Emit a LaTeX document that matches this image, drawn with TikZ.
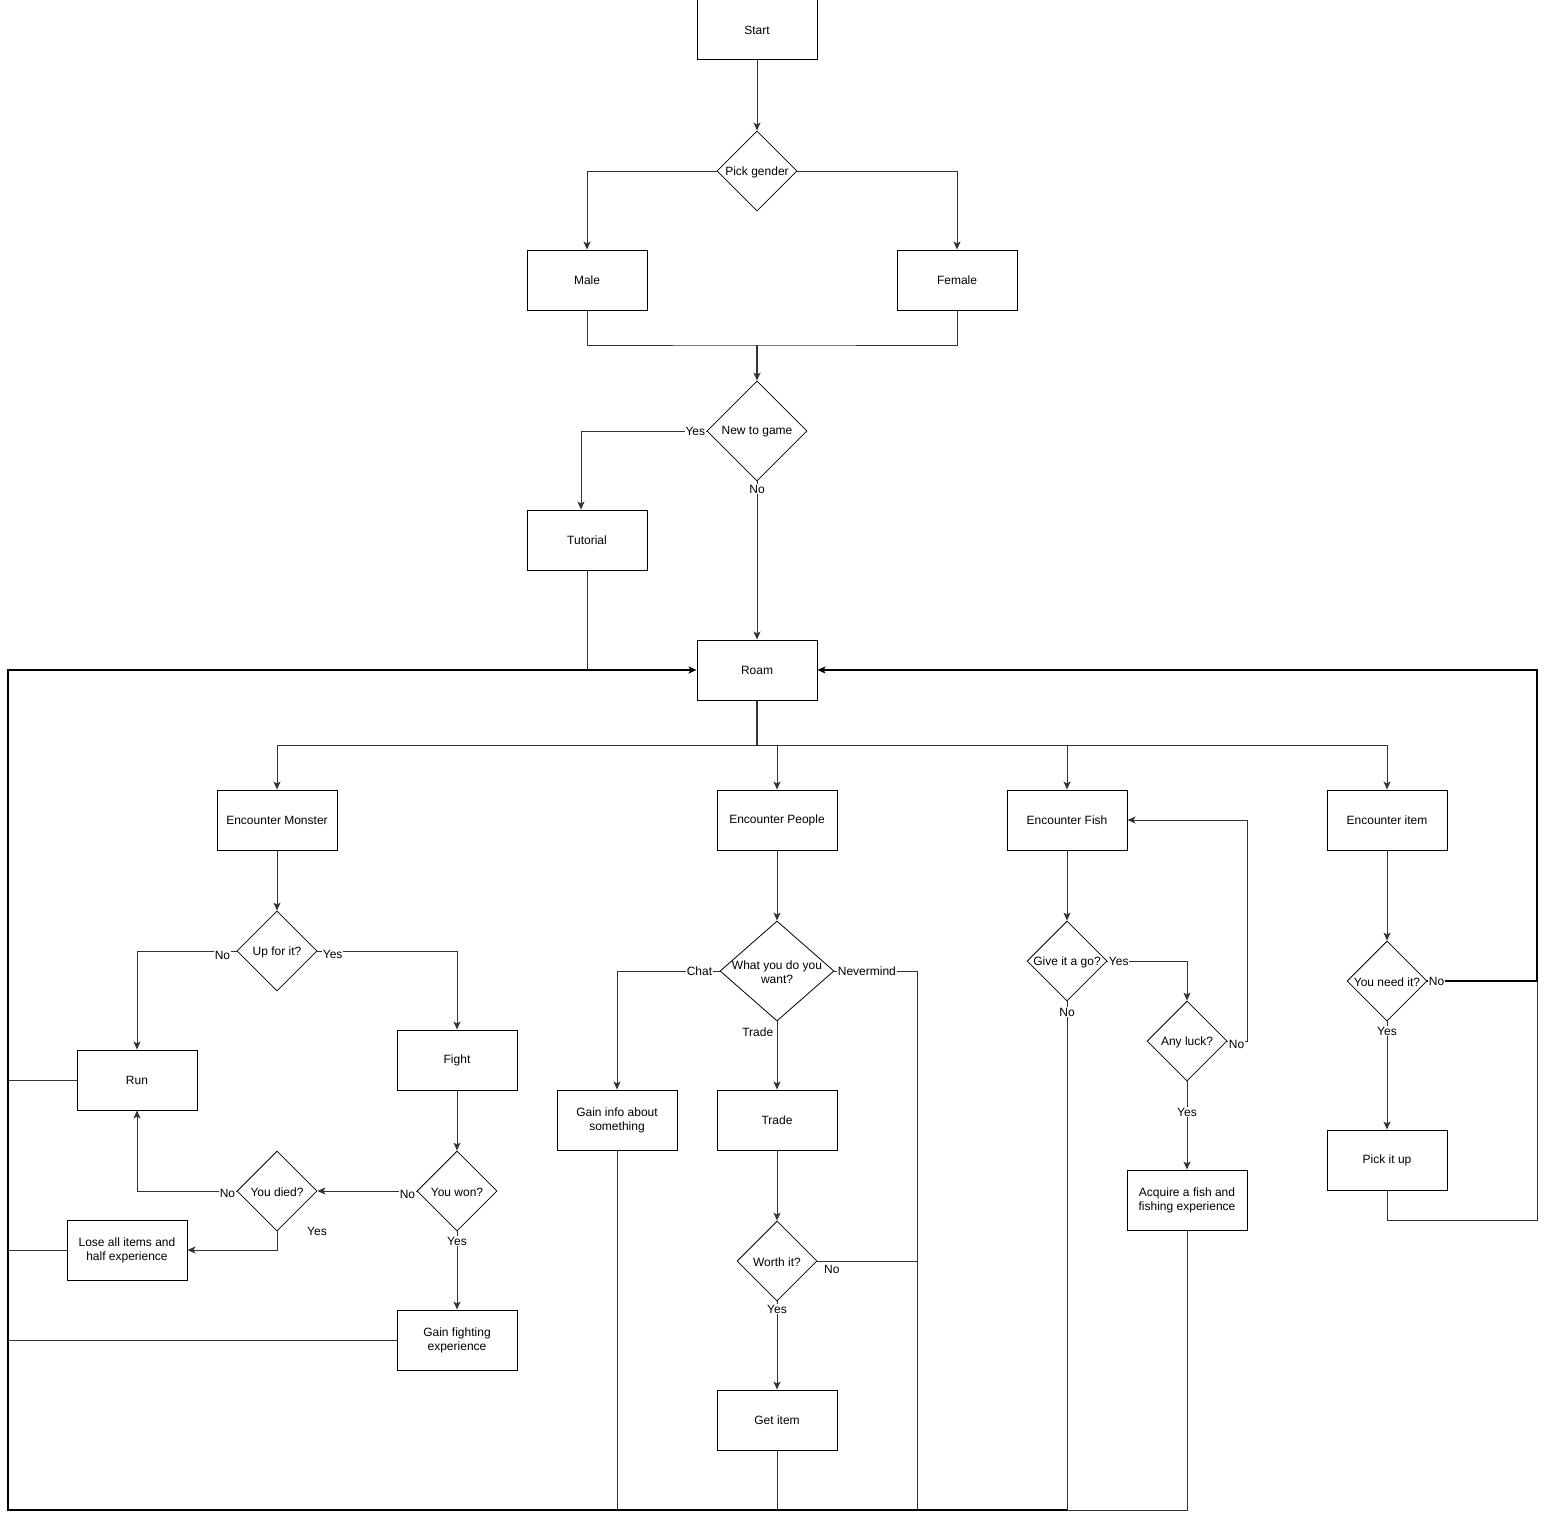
\documentclass[tikz,border=0pt]{standalone}
\usepackage{fontspec}
\setmainfont{Liberation Sans}
\usetikzlibrary{shapes.geometric,arrows.meta}

\tikzset{
  procbox/.style={draw, line width=1pt, minimum width=120, minimum height=60, align=center, inner sep=2pt},
  choice/.style={draw, diamond, line width=0.8pt, inner sep=0pt},
  flow/.style={draw=black!80, line width=1pt},
  arr/.style={flow, -{Stealth[length=8pt,width=7pt,inset=2pt]}},
  backloop/.style={draw=black, line width=2pt},
  backarr/.style={backloop, -{Stealth[length=8pt,width=7pt,inset=2pt]}},
  lbl/.style={fill=white, inner sep=1pt},
}

\begin{document}
\begin{tikzpicture}[x=1pt,y=-1pt,every node/.style={font=\fontsize{12}{14}\selectfont}]
        \useasboundingbox (0,0) rectangle (1546,1520);

        %the boxes
        \foreach \name/\loc/\txt in {start/{757,30}/Start, male/{587,280}/Male, female/{957,280}/Female,
          tutorial/{587,540}/Tutorial, roam/{757,670}/Roam,
          monster/{277,820}/Encounter Monster, people/{777,820}/Encounter People,
          fish/{1067,820}/Encounter Fish, item/{1387,820}/Encounter item,
          run/{137,1080}/Run, fight/{457,1060}/Fight, lose/{127,1250}/{Lose all items and\\half experience},
          gain/{457,1340}/{Gain fighting\\experience}, chat/{617,1120}/{Gain info about\\something},
          trade/{777,1120}/Trade, getitem/{777,1420}/Get item,
          acquire/{1187,1200}/{Acquire a fish and\\fishing experience}, pick/{1387,1160}/Pick it up}{
          \node[procbox] (\name) at (\loc) {\txt};
        }

        %the questions
        \foreach \name/\loc/\w/\h/\txt in {gender/{757,171}/80/80/Pick gender, newgame/{757,431}/100/100/New to game,
          upfor/{277,951}/80/80/Up for it?, won/{457,1191}/80/80/You won?, died/{277,1191}/80/80/You died?,
          want/{777,971}/114/100/{What you do you\\want?}, worth/{777,1261}/80/80/Worth it?,
          giveit/{1067,961}/80/80/Give it a go?, luck/{1187,1041}/80/80/Any luck?,
          need/{1387,981}/80/80/You need it?}{
          \node[choice, minimum width=\w, minimum height=\h,
            label={[name=\name-txt,align=center,yshift=-1]center:{\txt}}] (\name) at (\loc) {};
        }

        %corners of the way back
        \coordinate (sw) at (8,1510);
        \coordinate (nw) at (8,670);
        \coordinate (ne) at (1537,670);
        \coordinate (se) at (1537,1220);
        \coordinate (nm) at (917,1510);
        \coordinate (merge) at (757,345);
        \coordinate (split) at (757,745);
        \coordinate (fishback) at (1247,820);

        %start of the game
        \draw[arr] (start) -- (gender);
        \draw[arr] (gender.west) -| (male.north);
        \draw[arr] (gender.east) -| (female.north);
        \draw[flow] (male.south) |- (merge) -| (female.south);
        \draw[arr,line width=1.4pt] (merge) -- (newgame.north);
        \draw[arr] (newgame.west) -| node[lbl,pos=0,anchor=east]{Yes} ([xshift=-6]tutorial.north);
        \draw[arr] (newgame.south) -- node[lbl,pos=0,anchor=north,yshift=-2]{No} (roam.north);
        \draw[flow] (tutorial.south) -- (tutorial.south |- roam.west);

        %roam around
        \draw[flow,line width=1.6pt] (roam.south) -- (split);
        \foreach \enc in {monster,people,fish,item}{
          \draw[arr] (roam.south) -- (split) -| (\enc.north);
        }

        %monster
        \draw[arr] (monster) -- (upfor);
        \draw[arr] (upfor.west) -| node[lbl,pos=0,anchor=east,xshift=-5,yshift=-4]{No} (run.north);
        \draw[arr] (upfor.east) -| node[lbl,pos=0,anchor=west,xshift=4,yshift=-3]{Yes} (fight.north);
        \draw[arr] (fight) -- (won);
        \draw[arr] (won.west) -- node[lbl,pos=0,anchor=east,yshift=-3]{No} (died.east);
        \draw[arr] (died.west) -| node[lbl,pos=0,anchor=east,yshift=-2]{No} (run.south);
        \draw[arr] (died.south) |- node[pos=0,xshift=40]{Yes} (lose.east);
        \draw[arr] (won.south) -- node[lbl,pos=0,anchor=north,yshift=-4]{Yes} (gain.north);
        \foreach \leaf in {run,lose,gain}{
          \draw[flow] (\leaf.west) -- (\leaf.west -| sw);
        }

        %people
        \draw[arr] (people) -- (want);
        \draw[arr] (want.west) -| node[lbl,pos=0,anchor=east,xshift=-6]{Chat} (chat.north);
        \draw[flow] (want.east) -- node[lbl,pos=0,anchor=west,xshift=2]{Nevermind} (want.east -| nm) -- (nm);
        \draw[arr] (want.south) -- node[pos=0.16,left]{Trade} (trade.north);
        \draw[arr] (trade) -- (worth);
        \draw[flow] (worth.east) -- node[pos=0,anchor=north west,xshift=3]{No} (worth.east -| nm);
        \draw[arr] (worth.south) -- node[lbl,pos=0,anchor=north,yshift=-2]{Yes} (getitem.north);
        \draw[flow] (chat.south) -- (chat.south |- sw);
        \draw[flow] (getitem.south) -- (getitem.south |- sw);

        %fish
        \draw[arr] (fish) -- (giveit);
        \draw[arr] (giveit.east) -| node[lbl,pos=0,anchor=west]{Yes} (luck.north);
        \draw[flow] (giveit.south) -- node[lbl,pos=0,anchor=north,yshift=-5]{No} (giveit.south |- sw);
        \draw[arr] (luck.east) -- node[lbl,pos=0,anchor=west,yshift=-3]{No} (luck.east -| fishback) -- (fishback) -- (fish.east);
        \draw[arr] (luck.south) -- node[lbl,pos=0.35]{Yes} (acquire.north);
        \draw[flow] (acquire.south) -- (acquire.south |- sw) -- (giveit.south |- sw);

        %item
        \draw[arr] (item) -- (need);
        \draw[arr] (need.south) -- node[lbl,pos=0.09]{Yes} (pick.north);
        \draw[flow] (pick.south) |- (se) -- (need.east -| se);
        \draw[backarr,line width=1.1pt] (need.east) -- node[lbl,pos=0,anchor=west]{No} (need.east -| se) -- (ne) -- (roam.east);

        %back to roam
        \draw[backarr] (giveit.south |- sw) -- (sw) -- (nw) -- (roam.west);
\end{tikzpicture}
\end{document}
